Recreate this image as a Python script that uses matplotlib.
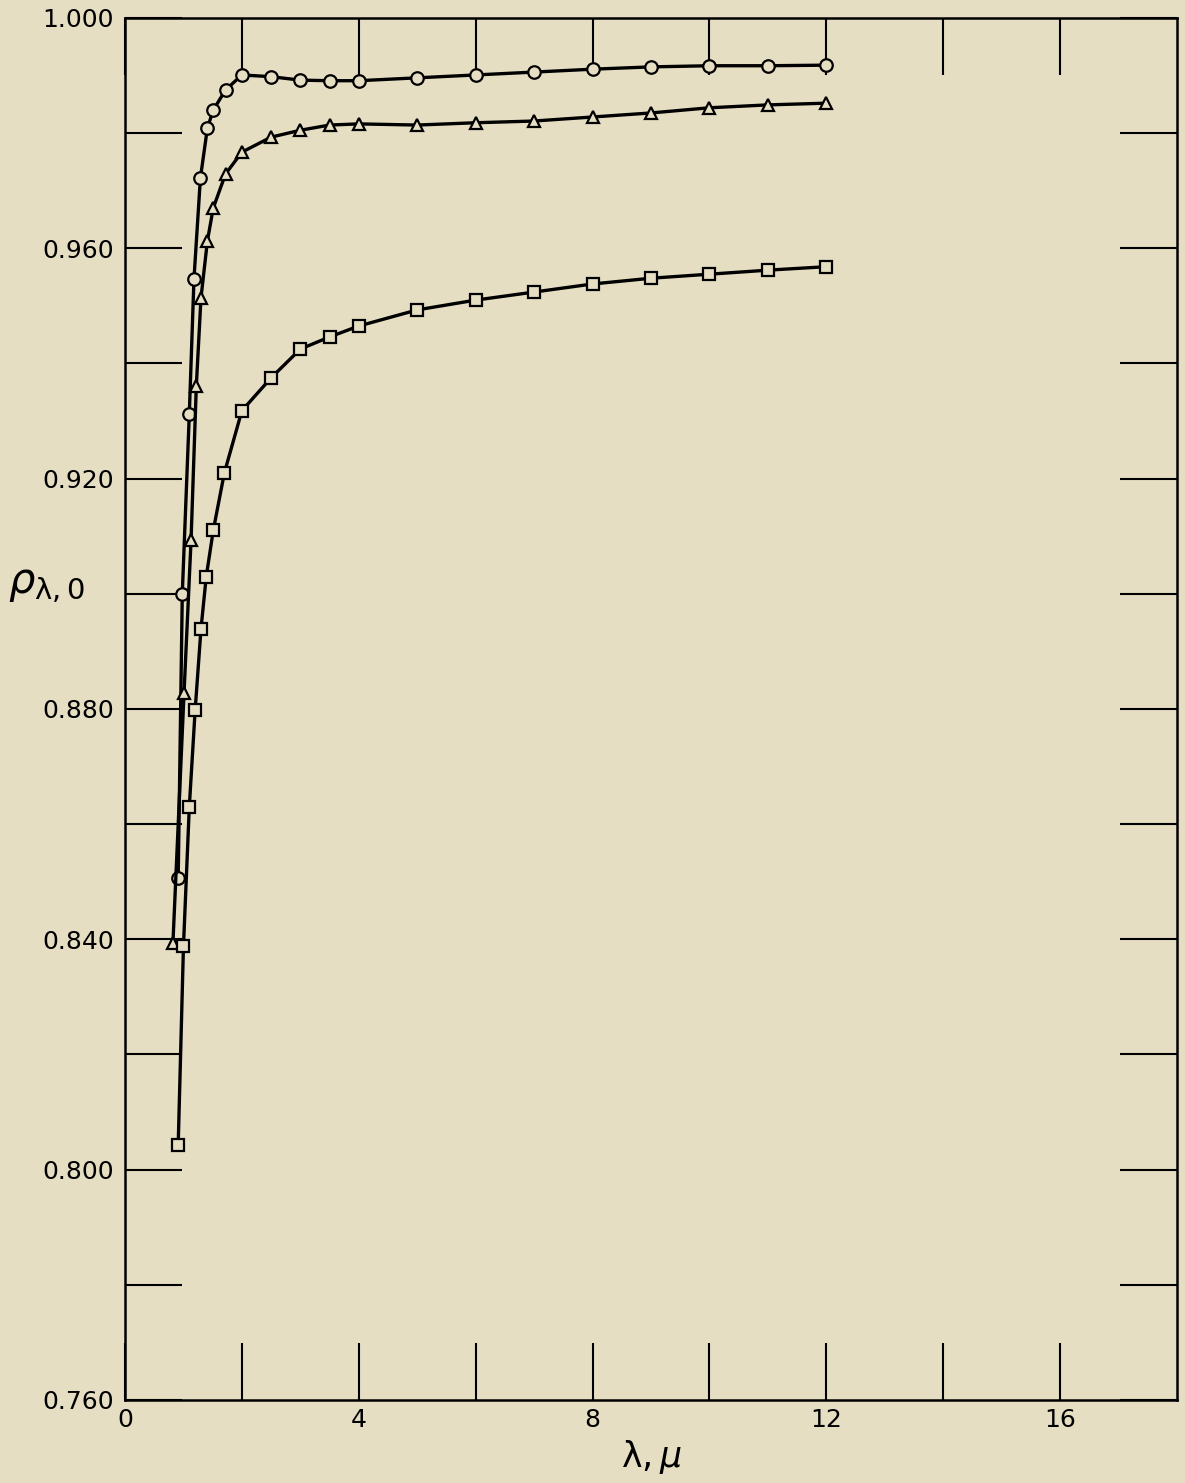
import numpy as np
import matplotlib.pyplot as plt

# reflectance data
x_circ = [0.91, 0.98, 1.10, 1.18, 1.29, 1.41, 1.51, 1.72, 2.0, 2.5, 3.0, 3.5, 4, 5, 6, 7, 8, 9, 10, 11, 12]
y_circ = [0.8506, 0.9000, 0.9312, 0.9547, 0.9722, 0.9809, 0.9840, 0.9875, 0.9901, 0.9898, 0.9892,
          0.9891, 0.9891, 0.9896, 0.9901, 0.9906, 0.9911, 0.9915, 0.9917, 0.9917, 0.9918]

x_tri = [0.82, 1.01, 1.13, 1.22, 1.30, 1.41, 1.51, 1.72, 2.0, 2.5, 3.0, 3.5, 4, 5, 6, 7, 8, 9, 10, 11, 12]
y_tri = [0.8394, 0.8828, 0.9093, 0.9361, 0.9514, 0.9613, 0.9670, 0.9729, 0.9767, 0.9793, 0.9805,
         0.9814, 0.9816, 0.9814, 0.9818, 0.9821, 0.9828, 0.9835, 0.9844, 0.9849, 0.9852]

x_sq = [0.91, 1.0, 1.1, 1.2, 1.3, 1.39, 1.51, 1.70, 2.0, 2.5, 3.0, 3.5, 4, 5, 6, 7, 8, 9, 10, 11, 12]
y_sq = [0.8043, 0.8388, 0.8630, 0.8798, 0.8939, 0.9030, 0.9110, 0.9210, 0.9318, 0.9375, 0.9425,
        0.9446, 0.9465, 0.9493, 0.9510, 0.9524, 0.9538, 0.9548, 0.9555, 0.9562, 0.9568]

x_labels = ['0', '4', '8', '12', '16']
y_labels = ['0.760', '0.800', '0.840', '0.880', '0.920', '0.960', '1.000']

bg = '#e6dec3'
fig = plt.figure(figsize=(11.85, 14.83), dpi=100, facecolor=bg)
ax = fig.add_axes([0.1055, 0.056, 0.8877, 0.9319], facecolor=bg)

for xs, ys, m, ms in [(x_circ, y_circ, 'o', 9), (x_tri, y_tri, '^', 9), (x_sq, y_sq, 's', 8.5)]:
    ax.plot(xs, ys, color='black', lw=2.4, marker=m, ms=ms, mfc=bg, mec='black', mew=1.6,
            clip_on=False, zorder=3)

ax.set_xlim(0, 18)
ax.set_ylim(0.760, 1.000)

ax.set_xticks(np.arange(0, 17, 4))
ax.set_xticklabels(x_labels)
ax.set_xticks(np.arange(2, 18, 4), minor=True)
ax.set_yticks(np.arange(0.760, 1.0001, 0.040))
ax.set_yticklabels(y_labels)
ax.set_yticks(np.arange(0.780, 1.0, 0.040), minor=True)

for which in ['major', 'minor']:
    ax.tick_params(axis='both', which=which, direction='in', length=41, width=1.5,
                   top=True, right=True, labelsize=18, color='black')
ax.tick_params(axis='x', which='major', pad=6)
ax.tick_params(axis='y', which='major', pad=8)

for s in ax.spines.values():
    s.set_linewidth(1.8)

ax.set_xlabel(r'$\mathrm{\lambda}, \mu$', fontsize=25, va='center')
ax.xaxis.set_label_coords(0.5, -0.041)
ax.set_ylabel(r'$\rho_{\mathrm{\lambda},0}$', fontsize=30, rotation=0)
ax.yaxis.set_label_coords(-0.075, 0.575)

fig.savefig('out.png', dpi=100, facecolor=bg)
